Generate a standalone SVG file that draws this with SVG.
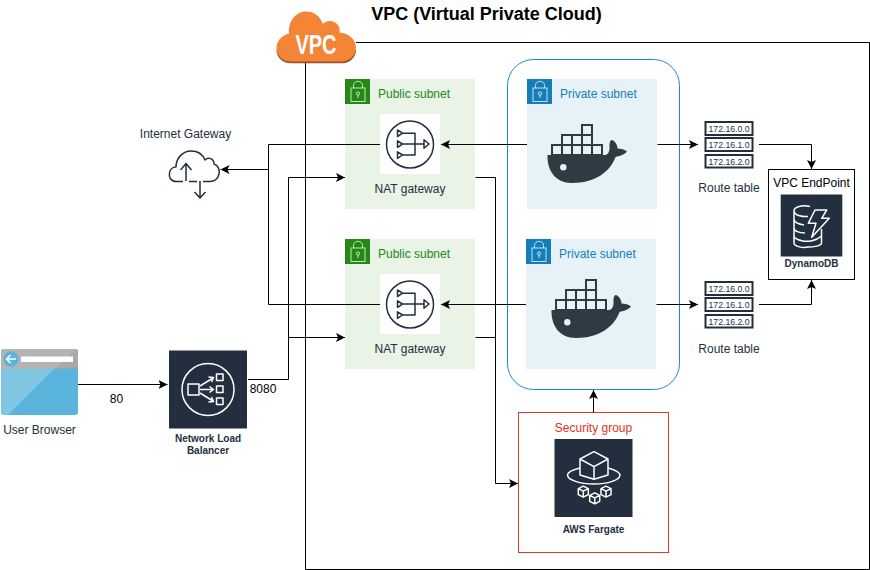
<svg xmlns="http://www.w3.org/2000/svg" xmlns:xlink="http://www.w3.org/1999/xlink" width="870" height="570" viewBox="0 0 870 570">
<style>
text{font-family:"Liberation Sans",Arial,Helvetica,sans-serif;font-size:12px;fill:#000}
.m{text-anchor:middle}
.dk{fill:#232f3e}
.b9{font-size:10px;font-weight:bold;fill:#232f3e;text-anchor:middle}
.conn{fill:none;stroke:#000;stroke-width:1}
.arr{marker-end:url(#ah)}
.ic{fill:none;stroke:#232f3e;stroke-width:1.5;stroke-linejoin:round}
.wt{fill:none;stroke:#fff;stroke-width:1.5;stroke-linejoin:round}
.lk{fill:none;stroke:#fff;stroke-opacity:.75;stroke-width:1}
.wc{fill:none;stroke:#2f3a42;stroke-width:2}
.rt{fill:#fff;stroke:#232f3e;stroke-width:2}
.rtt{font-size:8.7px;fill:#232f3e;text-anchor:middle}
</style>
<defs>
<marker id="ah" markerUnits="userSpaceOnUse" markerWidth="10" markerHeight="10" refX="9" refY="4.5" orient="auto"><path d="M9 4.5 L0 0 L2 4.5 L0 9 Z" fill="#000"/></marker>
<g id="lock"><rect x="6" y="9" width="14" height="13.5" class="lk"/><path d="M8.5 9 V6.5 C8.5 1 17.5 1 17.5 6.5 V9" class="lk"/><circle cx="13" cy="14.5" r="1.6" class="lk"/><path d="M13 16 V19" class="lk"/></g>
<g id="nat"><rect x="-30" y="-30" width="60" height="60" fill="#fff"/><circle cx="0" cy="0.5" r="23.5" class="ic"/><path d="M-12.5 -14 L-7.5 -10.8 L-12.5 -7.5 Z M-12.5 -3.2 L-7.5 0 L-12.5 3.3 Z M-12.5 7.8 L-7.5 11 L-12.5 14.4 Z M-7.5 -10.8 H5 V11 H-7.5 M-7.5 0 H14 M14 -4.3 L19 0 L14 4.3 Z" class="ic"/></g>
<g id="whale"><path d="M547.5 155 H605 C608 155 610 151 609.5 146 C609.5 143 610 140 612 140 C615 141 617.5 145 617.5 148.5 C621 148.5 625 149.5 627 151.5 C624 155 619.5 156 615.5 157 C610 172 595 183 572 183 C555 183 547 170 547.5 155 Z" fill="#2f3a42"/><circle cx="563.3" cy="167.3" r="3.2" fill="#e6f2f8"/><path d="M552 145 h10 v10 h-10 z M562 145 h10 v10 h-10 z M572 145 h10 v10 h-10 z M582 145 h10 v10 h-10 z M592 145 h10 v10 h-10 z M562 135 h10 v10 h-10 z M572 135 h10 v10 h-10 z M582 135 h10 v10 h-10 z M582 125 h10 v10 h-10 z" class="wc"/></g>
<g id="rtab"><rect x="705.5" y="122" width="47" height="13" class="rt"/><text x="729" y="131.8" class="rtt">172.16.0.0</text><rect x="705.5" y="138" width="47" height="13" class="rt"/><text x="729" y="147.8" class="rtt">172.16.1.0</text><rect x="705.5" y="155" width="47" height="12.5" class="rt"/><text x="729" y="164.5" class="rtt">172.16.2.0</text></g>
<g id="minicube"><path d="M0 -5.5 L5 -3 V3 L0 5.5 L-5 3 V-3 Z M-5 -3 L0 -0.5 L5 -3 M0 -0.5 V5.5" class="wt" stroke-width="1.2"/></g>
</defs>

<g id="vpc">
<path d="M356 42.5 H869.5 V569.5 H305.5 V63" fill="none" stroke="#000" stroke-width="1"/>
<text x="486.5" y="20" class="m" style="font-size:18px;font-weight:bold">VPC (Virtual Private Cloud)</text>
<path d="M291 63.3 C282 63.3 276.5 57 276.5 50 L356 50 C356 57 350 63.3 342 63.3 Z" fill="#9d5025"/>
<path d="M291 61.5 C282 61.5 276.5 55 276.5 48 C276.5 41 282 35 289 33.5 C288 20 297 11.5 306 11.5 C314 11.5 320 16 323 24 C326 20 333 20 337 24 C340 27 340 30 339.5 32.5 C349 33 356 40 356 47.5 C356 55 350 61.5 342 61.5 Z" fill="#f58536"/>
<text x="295.5" y="53.5" textLength="41" lengthAdjust="spacingAndGlyphs" style="font-size:28px;font-weight:bold;fill:#fff">VPC</text>
</g>

<g id="private-group"><rect x="507.5" y="59.5" width="172" height="330" rx="26" fill="none" stroke="#2185e0" stroke-width="1"/></g>

<g id="public-subnet-1">
<rect x="345" y="79" width="130" height="130" fill="#e9f3e6"/><rect x="345" y="79" width="25" height="25" fill="#248814"/><use xlink:href="#lock" href="#lock" x="345" y="79"/>
<text x="378" y="98" style="fill:#248814">Public subnet</text>
<use xlink:href="#nat" href="#nat" x="410" y="144"/>
<text x="410" y="193" class="m dk">NAT gateway</text>
</g>
<g id="public-subnet-2">
<rect x="345" y="239" width="130" height="130" fill="#e9f3e6"/><rect x="345" y="239" width="25" height="25" fill="#248814"/><use xlink:href="#lock" href="#lock" x="345" y="239"/>
<text x="378" y="258" style="fill:#248814">Public subnet</text>
<use xlink:href="#nat" href="#nat" x="410" y="304"/>
<text x="410" y="353" class="m dk">NAT gateway</text>
</g>
<g id="private-subnet-1">
<rect x="527" y="79" width="130" height="130" fill="#e6f2f8"/><rect x="527" y="79" width="25" height="25" fill="#147eba"/><use xlink:href="#lock" href="#lock" x="527" y="79"/>
<text x="560" y="98" style="fill:#147eba">Private subnet</text>
<use xlink:href="#whale" href="#whale"/>
</g>
<g id="private-subnet-2">
<rect x="526" y="239" width="130" height="130" fill="#e6f2f8"/><rect x="526" y="239" width="25" height="25" fill="#147eba"/><use xlink:href="#lock" href="#lock" x="526" y="239"/>
<text x="559" y="258" style="fill:#147eba">Private subnet</text>
<use xlink:href="#whale" href="#whale" x="4" y="155"/>
</g>

<g id="internet-gateway">
<text x="185.5" y="138" class="m dk">Internet Gateway</text>
<path d="M176 181.5 C171 181.5 168.5 177 169.5 173 C170 169 173 167 176 167 C176 158 183 151 191 151 C198 151 203 155 205 160 C208 157 214 158 214 164 C218 165 220 170 219 174 C218 179 214 181.5 210 181.5 M176 181.5 H183 M189 181.5 H197 M203 181.5 H210" class="ic"/>
<path d="M186 181 V164 M180.5 170 L186 163.5 L191.5 170 M200 181 V198 M194.5 192 L200 198 L205.5 192" class="ic"/>
</g>

<g id="user-browser">
<rect x="1" y="349" width="77" height="66" rx="3" fill="#5ab4db"/>
<path d="M4 349 H74 L8 415 H4 Q1 415 1 412 V352 Q1 349 4 349 Z" fill="#7fc6e3"/>
<path d="M4 349 H75 Q78 349 78 352 V368.5 H1 V352 Q1 349 4 349 Z" fill="#a9a9a9"/>
<path d="M4 349 H75 L56 368.5 H1 V352 Q1 349 4 349 Z" fill="#b4b4b4"/>
<circle cx="11" cy="359" r="7.7" fill="#5ab4db"/>
<path d="M16 359 H7 M10.5 355 L6.5 359 L10.5 363" fill="none" stroke="#fff" stroke-width="1.5"/>
<rect x="21" y="356.5" width="52" height="5.5" fill="#fff"/>
<text x="39.5" y="434" class="m dk">User Browser</text>
</g>

<g id="network-load-balancer">
<rect x="169" y="350.5" width="78" height="78" fill="#232f3e"/>
<circle cx="208" cy="389.5" r="26" class="wt"/>
<rect x="188" y="384" width="11" height="11" class="wt"/>
<rect x="216.5" y="374" width="6.5" height="6.5" class="wt"/><rect x="216.5" y="386" width="6.5" height="6.5" class="wt"/><rect x="216.5" y="398" width="6.5" height="6.5" class="wt"/>
<path d="M200 386 L213 378 M208.5 377 L213.5 377.5 L211.5 382 M200 389.5 H213 M209.5 386.5 L213.5 389.5 L209.5 392.5 M200 393 L213 401 M208.5 402 L213.5 401.5 L211.5 397" class="wt"/>
<text x="208" y="441.5" class="b9">Network Load</text>
<text x="208" y="453.5" class="b9">Balancer</text>
</g>

<g id="route-table-1"><use xlink:href="#rtab" href="#rtab"/><text x="729" y="192" class="m dk">Route table</text></g>
<g id="route-table-2"><use xlink:href="#rtab" href="#rtab" y="160"/><text x="729" y="353" class="m dk">Route table</text></g>

<g id="vpc-endpoint">
<rect x="768.5" y="169.5" width="86" height="110" fill="#fff" stroke="#000" stroke-width="1"/>
<text x="811.5" y="187" class="m">VPC EndPoint</text>
<rect x="780.7" y="194.5" width="61.6" height="62" fill="#232f3e"/>
<path d="M810 206.5 C802 204.5 794 207 794 211 C794 215 802 217 808 216.5 M794 211 V219 C794 222 798 224 804 225 M794 219 V228 C794 231 799 233 805 233 M794 228 V236 C794 238 798 240 803 241 M794 236 V243 C794 247 804 248 808 247 C813 247 821.5 246 821.5 243 V229 M803 241 C808 242 816 241 821.5 236" class="wt"/>
<path d="M815 210 H826.7 L821.7 218.3 H829.3 L811.7 237.3 L816 223.3 H808.3 Z" class="wt"/>
<text x="811.5" y="267" class="b9">DynamoDB</text>
</g>

<g id="security-group">
<rect x="518.5" y="412.5" width="150" height="140" fill="#fff" stroke="#e7362a" stroke-width="1"/>
<text x="593.5" y="432" class="m" style="fill:#dd3522">Security group</text>
<rect x="554.5" y="439" width="78" height="78" fill="#232f3e"/>
<path d="M594 451.7 L608 459 V475 L594 479.3 L580 475 V459 Z M580 459 L594 466.7 L608 459 M594 466.7 V479.3" class="wt"/>
<path d="M580 468 C572 470 567.5 472 567.5 475 C567.5 480 580 484 594 484 C608 484 620 480 620 475 C620 472 615 470 608 468" class="wt"/>
<use xlink:href="#minicube" href="#minicube" x="583.3" y="491.7"/>
<use xlink:href="#minicube" href="#minicube" x="606" y="491.7"/>
<use xlink:href="#minicube" href="#minicube" x="594.7" y="498.3"/>
<text x="593.5" y="533" class="m" style="font-size:10px;font-weight:bold;fill:#232f3e">AWS Fargate</text>
</g>

<g id="connectors">
<path class="conn arr" d="M78 384.5 H167.5"/>
<path class="conn arr" d="M248 379.5 H288.5 V177.5 H345"/>
<path class="conn arr" d="M288.5 337.5 H345"/>
<path class="conn" d="M380 144.5 H268.5 V304.5 H380"/>
<path class="conn arr" d="M268.5 169.5 H220.5"/>
<path class="conn arr" d="M527 144.5 H441"/>
<path class="conn arr" d="M526 304.5 H441"/>
<path class="conn arr" d="M475.5 177.5 H495.5 V483.5 H518"/>
<path class="conn" d="M475.5 337.5 H495.5"/>
<path class="conn arr" d="M657.5 144.5 H698"/>
<path class="conn arr" d="M656.5 304.5 H698"/>
<path class="conn arr" d="M759 144.5 H811.5 V169"/>
<path class="conn arr" d="M759 304.5 H811.5 V280"/>
<path class="conn arr" d="M593.5 412.5 V390"/>
<text x="116.5" y="403" class="m">80</text>
<text x="263" y="393" class="m">8080</text>
</g>
</svg>
